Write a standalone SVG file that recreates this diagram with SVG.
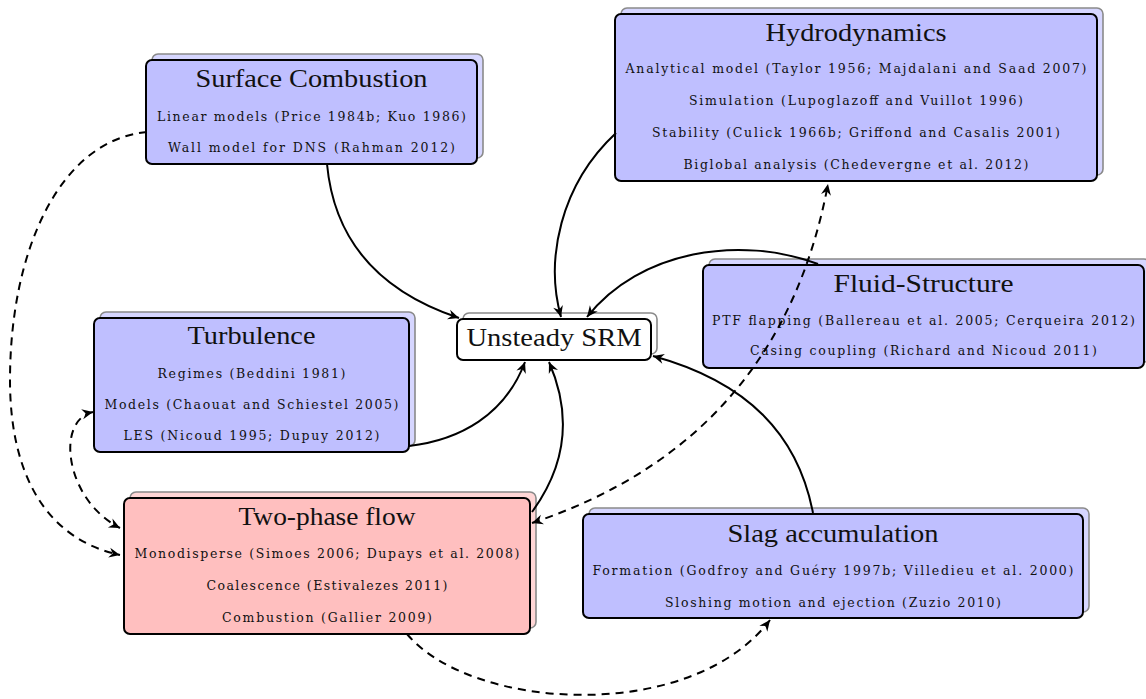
<svg xmlns="http://www.w3.org/2000/svg" width="1146" height="699" viewBox="0 0 1146 699">
<defs>
<style>
.shadow-b{fill:#d6d6ff;stroke:#8a8a8a;stroke-width:1.6}
.shadow-r{fill:#ffd6d6;stroke:#8a8a8a;stroke-width:1.6}
.shadow-w{fill:#ffffff;stroke:#8a8a8a;stroke-width:1.6}
.box-b{fill:#bfbfff;stroke:#000;stroke-width:2}
.box-r{fill:#ffbfbf;stroke:#000;stroke-width:2}
.box-w{fill:#ffffff;stroke:#000;stroke-width:2}
.title{font-family:"Liberation Serif","DejaVu Serif",serif;font-size:25px;fill:#111;text-anchor:middle}
.item{font-family:"DejaVu Serif","Liberation Serif",serif;font-size:12.5px;fill:#111;text-anchor:middle}
.conn{fill:none;stroke:#000;stroke-width:2}
.dash{stroke-dasharray:8 6}
</style>
<marker id="arr" viewBox="-12 -6 13 12" refX="0" refY="0" markerWidth="13" markerHeight="12" markerUnits="userSpaceOnUse" orient="auto-start-reverse">
<path d="M0,0 L-11,-5 L-7.5,0 L-11,5 Z" fill="#000"/>
</marker>
</defs>
<rect width="1146" height="699" fill="#fff"/>

<g id="surface-combustion">
<rect class="shadow-b" x="152" y="54" width="331" height="104" rx="6"/>
<rect class="box-b" x="146" y="60" width="331" height="104" rx="6"/>
<text class="title" x="311.5" y="87" textLength="232" lengthAdjust="spacingAndGlyphs">Surface Combustion</text>
<text class="item" x="311.5" y="121" textLength="309" lengthAdjust="spacing">Linear models (Price 1984b; Kuo 1986)</text>
<text class="item" x="311.5" y="152" textLength="287" lengthAdjust="spacing">Wall model for DNS (Rahman 2012)</text>
</g>

<g id="hydrodynamics">
<rect class="shadow-b" x="621" y="8" width="482" height="167" rx="6"/>
<rect class="box-b" x="615" y="14" width="482" height="167" rx="6"/>
<text class="title" x="856" y="41" textLength="181" lengthAdjust="spacingAndGlyphs">Hydrodynamics</text>
<text class="item" x="856" y="73" textLength="461" lengthAdjust="spacing">Analytical model (Taylor 1956; Majdalani and Saad 2007)</text>
<text class="item" x="856" y="105" textLength="334" lengthAdjust="spacing">Simulation (Lupoglazoff and Vuillot 1996)</text>
<text class="item" x="856" y="137" textLength="408" lengthAdjust="spacing">Stability (Culick 1966b; Griffond and Casalis 2001)</text>
<text class="item" x="856" y="169" textLength="345" lengthAdjust="spacing">Biglobal analysis (Chedevergne et al. 2012)</text>
</g>

<g id="turbulence">
<rect class="shadow-b" x="100" y="312" width="315" height="134" rx="6"/>
<rect class="box-b" x="94" y="318" width="315" height="134" rx="6"/>
<text class="title" x="251.5" y="344" textLength="128" lengthAdjust="spacingAndGlyphs">Turbulence</text>
<text class="item" x="251.5" y="378" textLength="188" lengthAdjust="spacing">Regimes (Beddini 1981)</text>
<text class="item" x="251.5" y="409" textLength="294" lengthAdjust="spacing">Models (Chaouat and Schiestel 2005)</text>
<text class="item" x="251.5" y="440" textLength="256" lengthAdjust="spacing">LES (Nicoud 1995; Dupuy 2012)</text>
</g>

<g id="unsteady-srm">
<rect class="shadow-w" x="463" y="313" width="194" height="41" rx="6"/>
<rect class="box-w" x="457" y="319" width="194" height="41" rx="6"/>
<text class="title" x="554" y="346" textLength="175" lengthAdjust="spacingAndGlyphs">Unsteady SRM</text>
</g>

<g id="fluid-structure">
<rect class="shadow-b" x="709" y="259" width="441" height="103" rx="6"/>
<rect class="box-b" x="703" y="265" width="441" height="103" rx="6"/>
<text class="title" x="923.5" y="292" textLength="180" lengthAdjust="spacingAndGlyphs">Fluid-Structure</text>
<text class="item" x="923.5" y="325" textLength="423" lengthAdjust="spacing">PTF flapping (Ballereau et al. 2005; Cerqueira 2012)</text>
<text class="item" x="923.5" y="355" textLength="347" lengthAdjust="spacing">Casing coupling (Richard and Nicoud 2011)</text>
</g>

<g id="two-phase-flow">
<rect class="shadow-r" x="130" y="492" width="406" height="136" rx="6"/>
<rect class="box-r" x="124" y="498" width="406" height="136" rx="6"/>
<text class="title" x="327" y="525" textLength="177" lengthAdjust="spacingAndGlyphs">Two-phase flow</text>
<text class="item" x="327" y="558" textLength="385" lengthAdjust="spacing">Monodisperse (Simoes 2006; Dupays et al. 2008)</text>
<text class="item" x="327" y="590" textLength="241" lengthAdjust="spacing">Coalescence (Estivalezes 2011)</text>
<text class="item" x="327" y="622" textLength="210" lengthAdjust="spacing">Combustion (Gallier 2009)</text>
</g>

<g id="slag-accumulation">
<rect class="shadow-b" x="589" y="508" width="500" height="104" rx="6"/>
<rect class="box-b" x="583" y="514" width="500" height="104" rx="6"/>
<text class="title" x="833" y="542" textLength="211" lengthAdjust="spacingAndGlyphs">Slag accumulation</text>
<text class="item" x="833" y="575" textLength="481" lengthAdjust="spacing">Formation (Godfroy and Guéry 1997b; Villedieu et al. 2000)</text>
<text class="item" x="833" y="607" textLength="336" lengthAdjust="spacing">Sloshing motion and ejection (Zuzio 2010)</text>
</g>

<g id="connectors">
<path class="conn" d="M327,164 C335,250 390,295 459,318" marker-end="url(#arr)"/>
<path class="conn" d="M616,133 C560,185 545,260 561,317" marker-end="url(#arr)"/>
<path class="conn" d="M818,264 C740,235 640,250 587,317" marker-end="url(#arr)"/>
<path class="conn" d="M409,446 C460,440 505,415 525,362" marker-end="url(#arr)"/>
<path class="conn" d="M532,512 C570,460 570,410 549,362" marker-end="url(#arr)"/>
<path class="conn" d="M813,513 C798,435 748,382 653,356" marker-end="url(#arr)"/>
<path class="conn dash" d="M532,523 C697,468 796,355 828,184" marker-start="url(#arr)" marker-end="url(#arr)"/>
<path class="conn dash" d="M147,132 C60,140 10,250 10,380 C10,480 50,540 120,555" marker-end="url(#arr)"/>
<path class="conn dash" d="M93,412 C55,420 65,500 120,528" marker-start="url(#arr)" marker-end="url(#arr)"/>
<path class="conn dash" d="M407,634 C470,710 690,725 770,620" marker-end="url(#arr)"/>
</g>
</svg>
